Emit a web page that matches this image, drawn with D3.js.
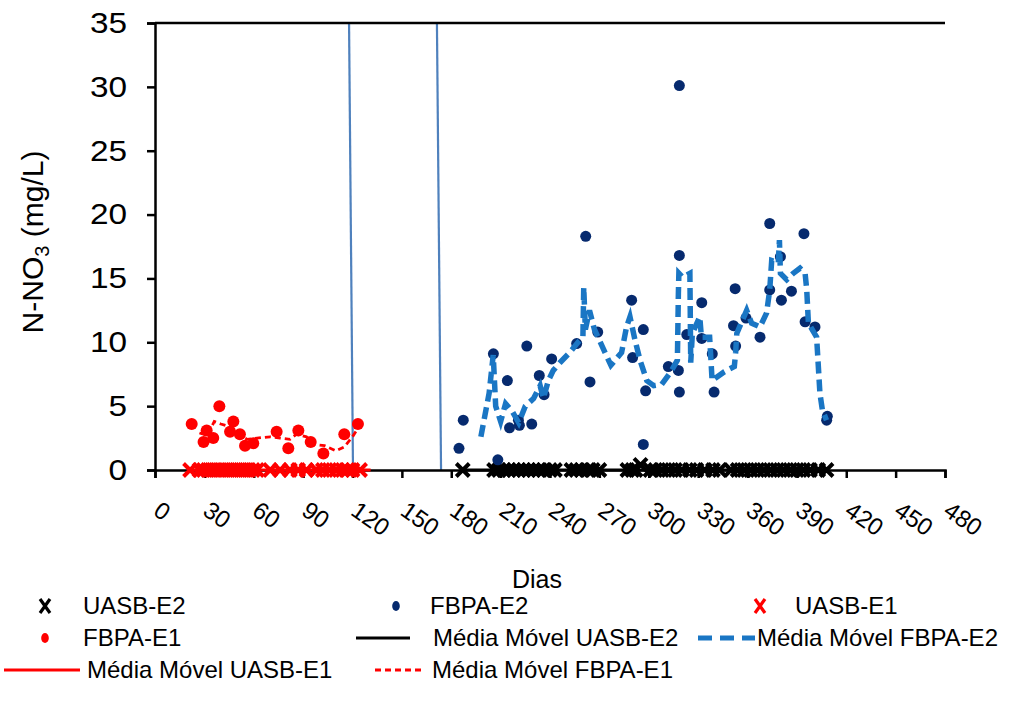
<!DOCTYPE html>
<html>
<head>
<meta charset="utf-8">
<script src="https://cdn.jsdelivr.net/npm/d3@7/dist/d3.min.js"></script>
<style>
  html, body { margin: 0; padding: 0; background: #fff; }
  svg { display: block; font-family: "Liberation Sans", Arial, sans-serif; }
</style>
</head>
<body>
<svg id="chart" width="1027" height="702"></svg>
<script>
// ---- data -------------------------------------------------------------
const xTicks = [0, 30, 60, 90, 120, 150, 180, 210, 240, 270, 300, 330, 360, 390, 420, 450, 480];
const yTicks = [0, 5, 10, 15, 20, 25, 30, 35];

// UASB-E1 (red crosses), days with N-NO3 = 0
const uasbE1Days = [21.3, 27, 29.5, 32, 34.5, 37, 39.5, 42, 44.5, 47, 49.5, 52, 54.5, 57, 59.5, 62,
  70, 76, 82, 87, 92, 98, 102, 106, 110, 114, 117, 120, 124.6];
const uasbE1Vals = [0, 0, 0, 0, 0, 0, 0, 0, 0, 0, 0, 0, 0, 0, 0, 0,
  0, 0, 0, 0, 0, 0, 0, 0, 0, 0, 0, 0, 0];

// FBPA-E1 (red dots)
const fbpaE1Days = [22.3, 29.5, 31.4, 35.4, 39.1, 45.6, 47.6, 51.6, 54.7, 59.7, 73.9, 81, 87.1, 94.6, 102.3, 115, 123.3];
const fbpaE1Vals = [3.6, 2.2, 3.1, 2.5, 5.0, 3.0, 3.8, 2.8, 1.9, 2.1, 3.0, 1.7, 3.1, 2.2, 1.3, 2.8, 3.6];

// Média Móvel UASB-E1
const maUasbE1Days = [21.3, 131];
const maUasbE1Vals = [0, 0];

// Média Móvel FBPA-E1
const maFbpaE1Days = [27, 32, 36, 40, 45, 48, 52, 56, 62, 70, 76, 82, 86, 92, 97, 103, 110, 115, 120, 124, 126];
const maFbpaE1Vals = [2.9, 2.7, 3.8, 3.6, 3.4, 3.2, 2.7, 2.4, 2.5, 2.6, 2.5, 2.4, 2.8, 2.6, 2.0, 1.9, 1.5, 1.8, 2.6, 3.4, 3.6];

// UASB-E2 (black crosses)
const uasbE2Days = [187, 206, 209, 212, 215, 218, 221, 224, 227, 230, 233, 236, 240, 243,
  253, 256, 259, 263, 266, 270, 287, 290, 292, 295, 301, 304, 308, 312, 316, 320, 325, 329,
  334, 339, 343, 350, 354, 358, 362, 366, 370, 374, 378, 382, 386, 390, 394, 398, 403, 408];
const uasbE2Vals = [0, 0, 0, 0, 0, 0, 0, 0, 0, 0, 0, 0, 0, 0,
  0, 0, 0, 0, 0, 0, 0, 0, 0, 0.4, 0, 0, 0, 0, 0, 0, 0, 0,
  0, 0, 0, 0, 0, 0, 0, 0, 0, 0, 0, 0, 0, 0, 0, 0, 0, 0];

// FBPA-E2 (navy dots)
const fbpaE2Days = [184.7, 187.3, 205.6, 208.3, 214.1, 215.4, 220.8, 221.4, 225.9, 228.9, 233.5, 236.4, 241,
  256.2, 261.7, 264.3, 269, 289.6, 290.2, 296.7, 296.7, 298.1, 311.9, 318, 318.6, 318.6, 318.6, 323.1,
  332.2, 332.2, 338.6, 339.7, 351.5, 352.5, 352.8, 359.1, 367.6, 373.5, 373.5, 380, 380.6, 386.7,
  394.3, 395, 401, 408.1, 408.5];
const fbpaE2Vals = [1.7, 3.9, 9.1, 0.8, 7.0, 3.3, 3.9, 3.5, 9.7, 3.6, 7.4, 5.9, 8.7,
  9.9, 18.3, 6.9, 10.8, 13.3, 8.8, 11.0, 2.0, 6.2, 8.1, 7.8, 30.1, 16.8, 6.1, 10.6,
  13.1, 10.3, 9.1, 6.1, 11.3, 14.2, 9.7, 11.9, 10.4, 19.3, 14.1, 16.7, 13.3, 14.0,
  18.5, 11.6, 11.2, 3.9, 4.2];

// Média Móvel UASB-E2
const maUasbE2Days = [187, 408];
const maUasbE2Vals = [0, 0];

// Média Móvel FBPA-E2
const maFbpaE2Days = [198, 203, 205.5, 207, 210, 213, 217, 221, 225, 230, 234, 236, 239, 242, 246, 252, 257, 260,
  260.5, 261.5, 264, 267, 272, 277, 283.5, 286.5, 288.6, 291.6, 294.7, 298.8, 303, 307.8, 313, 317.4,
  318, 318.3, 320.5, 325, 325.5, 326.5, 331, 332, 337, 338.5, 346, 352, 352.8, 353.5, 359.5, 362.5,
  367.6, 371.6, 373.5, 374.7, 378.7, 379.4, 380, 383.8, 387.8, 391.9, 395, 396, 397, 402, 404, 405.5, 408];
const maFbpaE2Vals = [2.6, 6.0, 9.0, 5.0, 3.8, 5.2, 4.6, 3.7, 5.0, 5.6, 6.6, 5.6, 7.0, 7.8, 8.4, 9.2, 10.0, 10.4,
  14.3, 11.0, 12.5, 11.0, 9.6, 8.2, 9.2, 11.2, 12.0, 10.2, 8.6, 7.0, 6.6, 6.7, 7.6, 8.6,
  13.8, 15.4, 15.1, 15.4, 8.4, 10.7, 12.0, 10.4, 10.4, 7.0, 7.7, 8.1, 9.2, 10.7, 12.5, 11.5,
  11.2, 12.3, 14.1, 16.4, 16.2, 18.0, 15.4, 14.9, 15.4, 15.8, 15.4, 14.1, 11.5, 10.4, 6.0, 4.7, 3.9];

// phase boundaries (blue lines): [day at top, day at bottom]
const phaseLines = [[117.9, 120.3], [171.3, 173.8]];

// legend entries
const legendLabels = ["UASB-E2", "FBPA-E2", "UASB-E1", "FBPA-E1", "Média Móvel UASB-E2",
  "Média Móvel FBPA-E2", "Média Móvel UASB-E1", "Média Móvel FBPA-E1"];

// ---- drawing ----------------------------------------------------------
const svg = d3.select("#chart");
const x = d3.scaleLinear().domain([0, 480]).range([155, 945]);
const y = d3.scaleLinear().domain([0, 35]).range([470, 23]);

const RED = "#ff0000", NAVY = "#062a6e", BLUE = "#1a76c4", PHASE = "#4f81bd";
const zip = (a, b) => a.map((d, i) => [d, b[i]]);
const line = d3.line().x(d => x(d[0])).y(d => y(d[1]));

// phase lines
phaseLines.forEach(p => {
  svg.append("line")
    .attr("x1", x(p[0])).attr("y1", y(35))
    .attr("x2", x(p[1])).attr("y2", y(0))
    .attr("stroke", PHASE).attr("stroke-width", 2.2);
});

// axes
const yAxis = d3.axisLeft(y).tickValues(yTicks).tickSize(8).tickPadding(0);
const gy = svg.append("g").attr("transform", `translate(${x(0)},0)`).call(yAxis);
gy.select(".domain").attr("stroke-width", 2.5);
gy.selectAll(".tick line").attr("stroke-width", 2.5);
gy.selectAll(".tick text")
  .attr("font-size", 29).attr("font-family", "Liberation Sans, Arial, sans-serif").attr("fill", "#000")
  .attr("x", -28 / 1.15).attr("transform", "scale(1.15,1)");

const xAxis = d3.axisBottom(x).tickValues(xTicks).tickSize(8).tickFormat("");
const gx = svg.append("g").attr("transform", `translate(0,${y(0)})`).call(xAxis);
gx.select(".domain").attr("stroke-width", 2.5);
gx.selectAll(".tick line").attr("stroke-width", 2.5);

// rotated tick labels
svg.append("g").selectAll("text").data(xTicks).join("text")
  .attr("transform", d => `translate(${x(d) - 3},514) rotate(35)`)
  .attr("font-size", 24)
  .text(d => d);

// top border
svg.append("line").attr("x1", x(0)).attr("x2", x(480)).attr("y1", y(35)).attr("y2", y(35))
  .attr("stroke", "#000").attr("stroke-width", 2.5);

// axis titles
svg.append("text").attr("transform", `translate(43,242) rotate(-90)`)
  .attr("text-anchor", "middle").attr("font-size", 30)
  .call(t => {
    t.append("tspan").text("N-NO");
    t.append("tspan").attr("font-size", 20).attr("dy", 6).text("3");
    t.append("tspan").attr("dy", -6).text(" (mg/L)");
  });
svg.append("text").attr("x", 537).attr("y", 588).attr("text-anchor", "middle")
  .attr("font-size", 25).text("Dias");

// moving averages on the baseline
svg.append("path").attr("d", line(zip(maUasbE1Days, maUasbE1Vals)))
  .attr("fill", "none").attr("stroke", RED).attr("stroke-width", 3);
svg.append("path").attr("d", line(zip(maUasbE2Days, maUasbE2Vals)))
  .attr("fill", "none").attr("stroke", "#000").attr("stroke-width", 3);

// cross marker
const crossPath = (s) => `M${-s},${-s}L${s},${s}M${-s},${s}L${s},${-s}`;

svg.append("g").selectAll("path").data(zip(uasbE1Days, uasbE1Vals)).join("path")
  .attr("transform", d => `translate(${x(d[0])},${y(d[1])})`)
  .attr("d", crossPath(6.5)).attr("stroke", RED).attr("stroke-width", 4);

svg.append("g").selectAll("path").data(zip(uasbE2Days, uasbE2Vals)).join("path")
  .attr("transform", d => `translate(${x(d[0])},${y(d[1])})`)
  .attr("d", crossPath(6.5)).attr("stroke", "#000").attr("stroke-width", 4);

svg.append("g").selectAll("circle").data(zip(fbpaE1Days, fbpaE1Vals)).join("circle")
  .attr("cx", d => x(d[0])).attr("cy", d => y(d[1])).attr("r", 6).attr("fill", RED);

svg.append("path").attr("d", line(zip(maFbpaE1Days, maFbpaE1Vals)))
  .attr("fill", "none").attr("stroke", RED).attr("stroke-width", 2.8).attr("stroke-dasharray", "6,4");

svg.append("g").selectAll("circle").data(zip(fbpaE2Days, fbpaE2Vals)).join("circle")
  .attr("cx", d => x(d[0])).attr("cy", d => y(d[1])).attr("r", 5.5).attr("fill", NAVY);

svg.append("path").attr("d", line(zip(maFbpaE2Days, maFbpaE2Vals)))
  .attr("fill", "none").attr("stroke", BLUE).attr("stroke-width", 5.5).attr("stroke-dasharray", "12,6");

// ---- legend -----------------------------------------------------------
const lg = svg.append("g").attr("font-size", 24);
const rows = [606, 638, 670];
const textX = [83, 430, 795, 83, 433, 757, 87, 432];
const textY = [rows[0], rows[0], rows[0], rows[1], rows[1], rows[1], rows[2], rows[2]];
legendLabels.forEach((t, i) => {
  lg.append("text").attr("x", textX[i]).attr("y", textY[i]).attr("dy", "0.35em").text(t);
});
// symbols
lg.append("path").attr("transform", `translate(45,${rows[0]})`).attr("d", "M-5,-7L5,7M-5,7L5,-7")
  .attr("stroke", "#000").attr("stroke-width", 3.2);
lg.append("ellipse").attr("cx", 396).attr("cy", rows[0]).attr("rx", 3.8).attr("ry", 5).attr("fill", NAVY);
lg.append("path").attr("transform", `translate(760,${rows[0]})`).attr("d", "M-5,-7L5,7M-5,7L5,-7")
  .attr("stroke", RED).attr("stroke-width", 3.2);
lg.append("ellipse").attr("cx", 45).attr("cy", rows[1]).attr("rx", 3.8).attr("ry", 5).attr("fill", RED);
lg.append("line").attr("x1", 356).attr("x2", 410).attr("y1", rows[1]).attr("y2", rows[1])
  .attr("stroke", "#000").attr("stroke-width", 3);
lg.append("line").attr("x1", 698).attr("x2", 755).attr("y1", rows[1]).attr("y2", rows[1])
  .attr("stroke", BLUE).attr("stroke-width", 5).attr("stroke-dasharray", "14,8");
lg.append("line").attr("x1", 4).attr("x2", 80).attr("y1", rows[2]).attr("y2", rows[2])
  .attr("stroke", RED).attr("stroke-width", 3);
lg.append("line").attr("x1", 375).attr("x2", 425).attr("y1", rows[2]).attr("y2", rows[2])
  .attr("stroke", RED).attr("stroke-width", 3).attr("stroke-dasharray", "6,4");
</script>
</body>
</html>
